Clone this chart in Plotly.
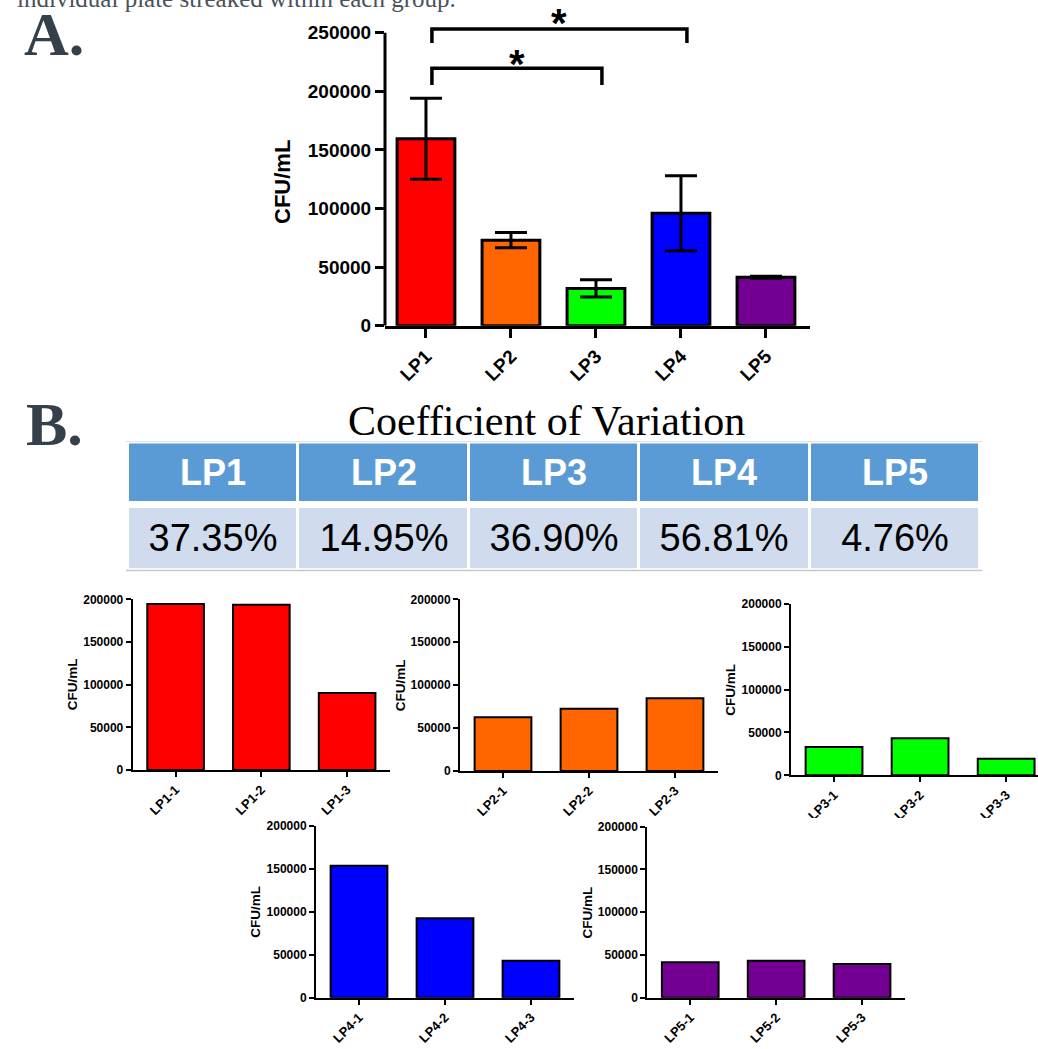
import plotly.graph_objects as go

# ---------------- data ----------------
groups = ["LP1", "LP2", "LP3", "LP4", "LP5"]
group_means = [159500, 73000, 31800, 95900, 41300]
group_err = [34500, 6500, 7400, 32000, 800]
group_colors = ["#ff0000", "#ff6600", "#00ff00", "#0000ff", "#730093"]
y_ticks_a = [0, 50000, 100000, 150000, 200000, 250000]

cv_values = ["37.35%", "14.95%", "36.90%", "56.81%", "4.76%"]

lp1_labels = ["LP1-1", "LP1-2", "LP1-3"]
lp1_values = [194500, 193700, 90200]
lp2_labels = ["LP2-1", "LP2-2", "LP2-3"]
lp2_values = [62500, 72600, 84700]
lp3_labels = ["LP3-1", "LP3-2", "LP3-3"]
lp3_values = [33000, 43200, 19400]
lp4_labels = ["LP4-1", "LP4-2", "LP4-3"]
lp4_values = [153800, 92500, 43100]
lp5_labels = ["LP5-1", "LP5-2", "LP5-3"]
lp5_values = [41400, 43300, 39400]
y_ticks_small = [0, 50000, 100000, 150000, 200000]

# significance comparisons: (from index, to index, bracket y, leg bottom y, star y)
sig_pairs = [(0, 2, 219600, 205400, 202400), (0, 3, 253150, 241200, 238200)]

# ---------------- layout helpers ----------------
W, H = 1038, 1049
def px(x):
    return x / W
def py(y):
    return 1 - y / H

SANS = "Liberation Sans, Arial, sans-serif"
SERIF = "Liberation Serif, Times New Roman, serif"

fig = go.Figure()
xpos = list(range(len(groups)))

# Panel A main bar chart
fig.add_trace(go.Bar(
    x=xpos, y=group_means,
    error_y=dict(type="data", array=group_err, color="black", thickness=3, width=16),
    marker=dict(color=group_colors, line=dict(color="black", width=3)),
    width=0.68, xaxis="x", yaxis="y", showlegend=False,
))

# Significance brackets
for a, b, yb, yl, ys in sig_pairs:
    fig.add_trace(go.Scatter(
        x=[a + 0.07, a + 0.07, b + 0.07, b + 0.07], y=[yl, yb, yb, yl],
        mode="lines", line=dict(color="black", width=3.5),
        xaxis="x", yaxis="y", showlegend=False, hoverinfo="skip",
    ))
    fig.add_annotation(x=(a + b) / 2 + 0.07, y=ys, xref="x", yref="y", text="<b>*</b>",
                       yanchor="bottom", showarrow=False,
                       font=dict(family=SANS, size=40, color="black"))

# small charts
small = [
    (lp1_labels, lp1_values, group_colors[0], 132.7, 390, 770, 599.3, 2.5),
    (lp2_labels, lp2_values, group_colors[1], 460, 718, 771, 599.3, 2.5),
    (lp3_labels, lp3_values, group_colors[2], 791, 1038, 775.3, 604, 2.37),
    (lp4_labels, lp4_values, group_colors[3], 316, 574, 997.7, 826, 2.5),
    (lp5_labels, lp5_values, group_colors[4], 647.3, 905, 997.7, 826.7, 2.5),
]

layout_axes = {}
layout_axes["xaxis"] = dict(
    domain=[px(385), px(810)], range=[-0.482, 4.518], tickvals=xpos, ticktext=groups,
    showline=True, linewidth=3, linecolor="black", ticks="outside", ticklen=9, tickwidth=3,
    tickcolor="black", tickangle=-45, showgrid=False, zeroline=False, automargin=False,
    tickfont=dict(family=SANS, size=19, color="black", weight="bold"), anchor="y",
)
layout_axes["yaxis"] = dict(
    domain=[py(325.7), py(10)], range=[0, 269370], tickvals=y_ticks_a,
    ticktext=[str(v) for v in y_ticks_a], automargin=False,
    showline=False, ticks="outside", ticklen=9, tickwidth=3, tickcolor="black",
    showgrid=False, zeroline=False,
    tickfont=dict(family=SANS, size=19, color="black", weight="bold"), anchor="x",
)

fig.add_shape(type="line", xref="x domain", yref="y", x0=0, x1=0, y0=0, y1=250000,
              line=dict(color="black", width=3))

for i, (labels, vals, col, x0, x1, yb, yt, rmax) in enumerate(small):
    n = i + 2
    fig.add_trace(go.Bar(
        x=labels, y=vals, marker=dict(color=col, line=dict(color="black", width=2)),
        width=0.66, xaxis=f"x{n}", yaxis=f"y{n}", showlegend=False,
    ))
    layout_axes[f"xaxis{n}"] = dict(
        domain=[px(x0), px(x1)], range=[-0.5, rmax], type="category",
        showline=True, linewidth=2, linecolor="black", ticks="outside", ticklen=5,
        tickwidth=2, tickcolor="black", tickangle=-45, showgrid=False, zeroline=False,
        automargin=False,
        tickfont=dict(family=SANS, size=13, color="black", weight="bold"), anchor=f"y{n}",
    )
    layout_axes[f"yaxis{n}"] = dict(
        domain=[py(yb), py(yt)], range=[0, 200000], tickvals=y_ticks_small,
        ticktext=[str(v) for v in y_ticks_small], automargin=False,
        showline=True, linewidth=2, linecolor="black", ticks="outside", ticklen=5,
        tickwidth=2, tickcolor="black", showgrid=False, zeroline=False,
        tickfont=dict(family=SANS, size=12, color="black", weight="bold"), anchor=f"x{n}",
    )
    fig.add_annotation(x=px(x0 - 60), y=py((yb + yt) / 2), xref="paper", yref="paper",
                       xanchor="center", yanchor="middle",
                       text="<b>CFU/mL</b>", textangle=-90, showarrow=False,
                       font=dict(family=SANS, size=13.5, color="black"))

# Table (panel B) as two one-row heatmaps so texts are centred in their cells
table_rows = [
    ("x7", "y7", [f"<b>{g}</b>" for g in groups], "#5b9bd5", "white", 36, 501, 443.3),
    ("x8", "y8", cv_values, "#d0dbee", "black", 38, 568.3, 507.7),
]
for xa, ya, texts, fill, fcol, fsize, yb, yt in table_rows:
    fig.add_trace(go.Heatmap(
        x=groups, y=["row"], z=[[1] * len(groups)], text=[texts],
        texttemplate="%{text}", textfont=dict(family=SANS, size=fsize, color=fcol),
        colorscale=[[0, fill], [1, fill]], zmin=0, zmax=1, showscale=False,
        xgap=3, ygap=0, hoverinfo="skip", xaxis=xa, yaxis=ya,
    ))
    layout_axes["xaxis" + xa[1:]] = dict(domain=[px(128), px(980)], visible=False,
                                          anchor=ya, fixedrange=True)
    layout_axes["yaxis" + ya[1:]] = dict(domain=[py(yb), py(yt)], visible=False,
                                          anchor=xa, fixedrange=True)

# Text annotations
fig.add_annotation(x=px(15), y=py(14), xref="paper", yref="paper", xanchor="left",
                   yanchor="bottom", text="individual plate streaked within each group.",
                   showarrow=False, font=dict(family=SERIF, size=25, color="#4a525b"))
fig.add_annotation(x=px(22), y=py(34), xref="paper", yref="paper", xanchor="left",
                   yanchor="middle", text="<b>A.</b>", showarrow=False,
                   font=dict(family=SERIF, size=62, color="#36404a"))
fig.add_annotation(x=px(24), y=py(424), xref="paper", yref="paper", xanchor="left",
                   yanchor="middle", text="<b>B.</b>", showarrow=False,
                   font=dict(family=SERIF, size=62, color="#36404a"))
fig.add_annotation(x=px(546), y=py(421), xref="paper", yref="paper", xanchor="center",
                   yanchor="middle", text="Coefficient of Variation", showarrow=False,
                   font=dict(family=SERIF, size=42, color="black"))
fig.add_annotation(x=px(283), y=py(182), xref="paper", yref="paper",
                   xanchor="center", yanchor="middle",
                   text="<b>CFU/mL</b>", textangle=-90, showarrow=False,
                   font=dict(family=SANS, size=22, color="black"))

# thin grey table borders
fig.add_shape(type="line", xref="paper", yref="paper", x0=px(126), x1=px(982),
              y0=py(441.7), y1=py(441.7), line=dict(color="#dcdcdc", width=1))
fig.add_shape(type="line", xref="paper", yref="paper", x0=px(126), x1=px(982),
              y0=py(570.5), y1=py(570.5), line=dict(color="#c8c8c8", width=1.5))

# white cover clipping the LP3 sub-panel's labels like in the source crop
fig.add_shape(type="rect", xref="paper", yref="paper", x0=px(780), x1=1,
              y0=py(835), y1=py(818), fillcolor="white", line=dict(width=0), layer="above")

fig.update_layout(
    width=W, height=H, margin=dict(l=0, r=0, t=0, b=0, pad=0, autoexpand=False),
    autosize=False, paper_bgcolor="white", plot_bgcolor="rgba(0,0,0,0)",
    **layout_axes,
)

post = (
    "document.body.style.margin='0';"
    "document.body.style.overflow='hidden';"
)
fig.write_html("out.html", config={"displayModeBar": False, "responsive": False},
               post_script=post)
